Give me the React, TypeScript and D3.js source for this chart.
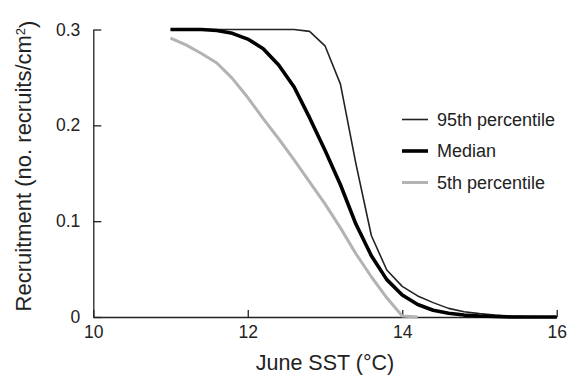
import { useEffect, useRef } from 'react';
import * as d3 from 'd3';

// June SST (°C), step 0.2
const sst = [11, 11.2, 11.4, 11.6, 11.8, 12, 12.2, 12.4, 12.6, 12.8, 13, 13.2, 13.4, 13.6, 13.8, 14, 14.2, 14.4, 14.6, 14.8, 15, 15.2, 15.4, 15.6, 15.8, 16];

const p95 = [0.3, 0.3, 0.3, 0.3, 0.3, 0.3, 0.3, 0.3, 0.3, 0.298, 0.283, 0.243, 0.16, 0.085, 0.049, 0.032, 0.022, 0.015, 0.009, 0.0055, 0.0035, 0.002, 0.001, 0.0005, 0.0002, 0];
const median = [0.3, 0.3, 0.3, 0.299, 0.296, 0.29, 0.28, 0.263, 0.24, 0.208, 0.174, 0.138, 0.097, 0.064, 0.039, 0.023, 0.013, 0.007, 0.004, 0.002, 0.001, 0.0005, 0, 0, 0, 0];
const p5 = [0.291, 0.284, 0.275, 0.265, 0.249, 0.229, 0.207, 0.186, 0.164, 0.141, 0.118, 0.093, 0.066, 0.042, 0.02, 0.001, 0];

const xTicks = [10, 12, 14, 16];
const yTicks = [0, 0.1, 0.2, 0.3];

const seriesNames = ['95th percentile', 'Median', '5th percentile'];
const seriesColors = ['#222', '#000', '#b3b3b3'];
const seriesWidths = [1.6, 3.6, 3];

export default function App() {
    const svgRef = useRef<SVGSVGElement>(null);

    useEffect(() => {
        if (!svgRef.current) return;
        const width = 573;
        const height = 375;
        const font = '"Liberation Sans", Arial, sans-serif';

        const root = d3.select(svgRef.current);
        root.selectAll('*').remove();
        root.attr('width', width).attr('height', height);

        const x = d3.scaleLinear().domain([10, 16]).range([93.3, 556.7]);
        const y = d3.scaleLinear().domain([0, 0.3]).range([317, 29.5]);

        // axes, ticks pointing inward
        const xAxis = root.append('g')
            .attr('transform', `translate(0,${y(0)})`)
            .call(d3.axisBottom(x).tickValues(xTicks).tickFormat(d3.format('d'))
                .tickSizeInner(-7).tickSizeOuter(0).tickPadding(9));
        const yAxis = root.append('g')
            .attr('transform', `translate(${x(10)},0)`)
            .call(d3.axisLeft(y).tickValues(yTicks).tickFormat(d => (d === 0 ? '0' : d3.format('.1f')(d as number)))
                .tickSizeInner(-8).tickSizeOuter(0).tickPadding(13));

        [xAxis, yAxis].forEach(ax => {
            ax.selectAll('path, line').attr('stroke', '#222').attr('stroke-width', 1.3);
            ax.selectAll('text').attr('fill', '#222').style('font-family', font).style('font-size', '17.5px');
        });

        // series
        const all = [p95, median, p5];
        const line = d3.line<number>()
            .x((_, i) => x(sst[i]))
            .y(d => y(d));

        // draw light to dark so the thick black line sits on top
        [2, 0, 1].forEach(k => {
            root.append('path')
                .datum(all[k])
                .attr('d', line)
                .attr('fill', 'none')
                .attr('stroke', seriesColors[k])
                .attr('stroke-width', seriesWidths[k])
                .attr('stroke-linejoin', 'round');
        });

        // legend
        const legend = root.append('g');
        seriesNames.forEach((name, i) => {
            const ly = 119.5 + i * 31.5;
            legend.append('line')
                .attr('x1', 402).attr('x2', 428)
                .attr('y1', ly).attr('y2', ly)
                .attr('stroke', seriesColors[i])
                .attr('stroke-width', seriesWidths[i]);
            legend.append('text')
                .attr('x', 437).attr('y', ly)
                .attr('dy', '0.35em')
                .attr('fill', '#222')
                .style('font-family', font)
                .style('font-size', '18px')
                .text(name);
        });

        // axis titles
        root.append('text')
            .attr('x', 325).attr('y', 370)
            .attr('text-anchor', 'middle')
            .attr('fill', '#222')
            .style('font-family', font)
            .style('font-size', '21.5px')
            .text('June SST (°C)');

        const yt = root.append('text')
            .attr('transform', 'translate(31,166) rotate(-90)')
            .attr('text-anchor', 'middle')
            .attr('fill', '#222')
            .style('font-family', font)
            .style('font-size', '22px');
        yt.append('tspan').text('Recruitment (no. recruits/cm');
        yt.append('tspan').attr('dy', '-0.45em').style('font-size', '13px').text('2');
        yt.append('tspan').attr('dy', '0.45em').text(')');
    }, []);

    return (
        <div style={{ position: 'fixed', left: 0, top: 0 }}>
            <svg ref={svgRef} style={{ display: 'block', background: '#fff' }} />
        </div>
    );
}
